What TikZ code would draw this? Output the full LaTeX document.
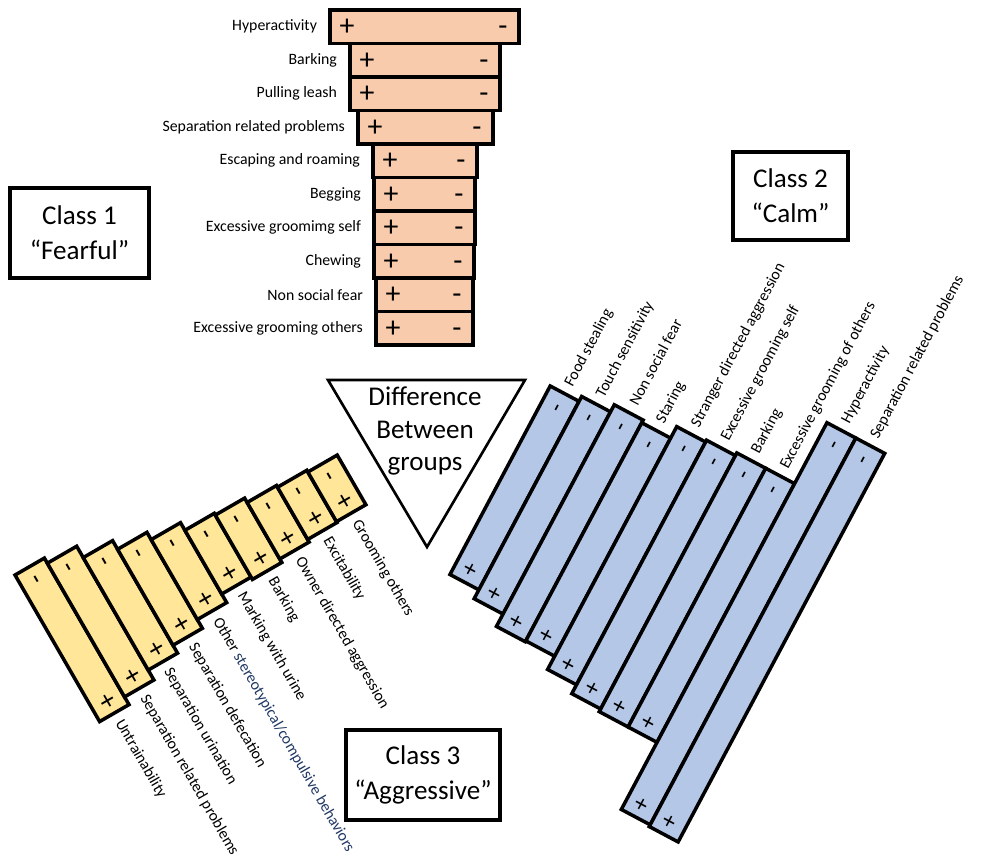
\documentclass[tikz,border=0pt]{standalone}
\usepackage{fontspec}
\setmainfont{Carlito}
\definecolor{peach}{HTML}{F8CBAD}
\definecolor{skyblue}{HTML}{B4C7E7}
\definecolor{sand}{HTML}{FFE699}
\definecolor{navytext}{HTML}{203864}
\tikzset{
  bar/.style={draw=black, line width=2pt},
  obar/.style={bar, fill=peach},
  bbar/.style={bar, fill=skyblue},
  ybar/.style={bar, fill=sand},
  lab/.style={font=\fontsize{9}{10}\selectfont, inner sep=1pt},
  osign/.style={font=\fontsize{17}{17}\selectfont, inner sep=0pt, text height=10pt, text depth=0pt},
  bsign/.style={font=\fontsize{14}{14}\selectfont, inner sep=0pt, text height=8.2pt, text depth=0pt, rotate=62},
  ysign/.style={font=\fontsize{16}{16}\selectfont, inner sep=0pt, text height=9.4pt, text depth=0pt, rotate=-60},
  classbox/.style={draw, line width=2.8pt, align=center, font=\fontsize{15.4}{20}\selectfont}
}
\begin{document}
\begin{tikzpicture}[x=0.02cm, y=-0.02cm]
\useasboundingbox (0,0) rectangle (990,860);

% class 1 bars (top)
\foreach \i/\l/\r/\txt in {1/330/519/Hyperactivity, 2/350/500/Barking, 3/350/500/Pulling leash,
  4/358/493/Separation related problems, 5/373/477/Escaping and roaming, 6/374/475/Begging,
  7/374/475/Excessive groomimg self, 8/374/474/Chewing, 9/376/473/Non social fear,
  10/376/473/Excessive grooming others}{
  \pgfmathsetmacro\t{10+33.5*(\i-1)}
  \draw[obar] (\l,\t) rectangle (\r,\t+33.5);
  \node[osign] (op\i) at (\l+17,\t+16.75) {+};
  \node[osign] (om\i) at (\r-16,\t+16.75) {-};
  \node[lab, anchor=east] (ol\i) at (\l-11,\t+16.75) {\txt};
}

% class 2 bars (right)
\begin{scope}[rotate=62]
\foreach \i/\b/\t/\txt in {1/-296/-82.5/Food stealing, 2/-306/-77/Touch sensitivity,
  3/-320/-69/Non social fear, 4/-319/-72/Staring, 5/-334/-59/Stranger directed aggression,
  6/-344/-57/Excessive grooming self, 7/-347/-54/Barking, 8/-347/-54/Excessive grooming of others,
  9/-423/15/Hyperactivity, 10/-425/15/Separation related problems}{
  \pgfmathsetmacro\v{667+32.7*(\i-1)}
  \draw[bbar] (\b,\v) rectangle (\t,\v+32.7);
  \node[bsign] (bp\i) at (\b+14,\v+16.35) {+};
  \node[bsign] (bm\i) at (\t-16,\v+16.35) {-};
  \node[lab, rotate=62, anchor=west] (bl\i) at (\t+7,\v+16.35) {\txt};
}
\end{scope}

% class 3 bars (left)
\begin{scope}[rotate=-60]
\foreach \i/\a/\e/\txt in {1/505.5/674.7/Untrainability, 2/511.4/665.8/Separation related problems,
  3/524.5/654.4/Separation urination, 4/534.5/645.3/Separation defecation,
  5/542.9/635.2/{Other \textcolor{navytext}{stereotypical/compulsive behaviors}},
  6/551.7/625.3/Marking with urine, 7/553.7/628/Barking, 8/558.7/624/Owner directed aggression,
  9/560.7/621/Excitability, 10/562.7/620/Grooming others}{
  \pgfmathsetmacro\w{274.5-33.9*(\i-1)}
  \draw[ybar] (\a,\w) rectangle (\e,\w-33.9);
  \node[ysign] (ym\i) at (\a+14,\w-16.95) {-};
  \node[ysign] (yp\i) at (\e-14,\w-16.95) {+};
  \node[lab, rotate=-60, anchor=west] (yl\i) at (\e+7,\w-16.95) {\txt};
}
\end{scope}

% centre triangle
\draw[line width=1.5pt] (328,380) -- (525,380) -- (427,547) -- cycle;
\node[align=center, font=\fontsize{15.4}{18.5}\selectfont] (diff) at (425,431) {Difference\\Between\\groups};

% class boxes
\node[classbox, minimum width=2.78cm, minimum height=1.8cm] (c1) at (79.5,233) {Class 1\\“Fearful”};
\node[classbox, minimum width=2.3cm, minimum height=1.76cm] (c2) at (790.5,196) {Class 2\\“Calm”};
\node[classbox, minimum width=3.08cm, minimum height=1.8cm] (c3) at (423,775) {Class 3\\“Aggressive”};
\end{tikzpicture}
\end{document}
